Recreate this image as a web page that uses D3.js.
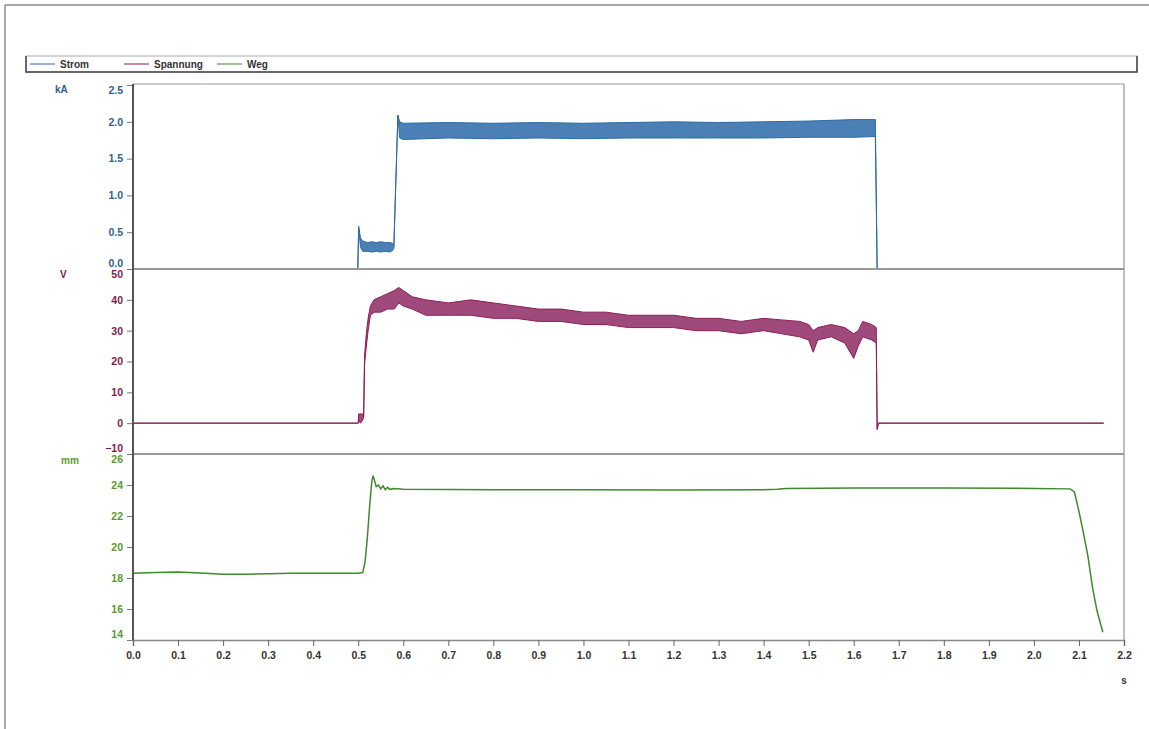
<!DOCTYPE html>
<html>
<head>
<meta charset="utf-8">
<script src="https://cdn.jsdelivr.net/npm/d3@7"></script>
<style>
  body { margin: 0; background: #fff; }
  svg { display: block; font-family: "Liberation Sans", Arial, sans-serif; }
</style>
</head>
<body>
<svg id="chart" width="1149" height="729"></svg>
<script>
// Legend entries and series colours
var seriesNames = ["Strom", "Spannung", "Weg"];
var seriesColors = ["#2f6aa3", "#8c1d56", "#3f8a2c"];
var unitLabels = ["kA", "V", "mm"];

// Tick values for the three y axes and the shared time axis
var curTicks = [0.0, 0.5, 1.0, 1.5, 2.0, 2.5];
var voltTicks = [-10, 0, 10, 20, 30, 40, 50];
var wegTicks = [14, 16, 18, 20, 22, 24, 26];
var timeTicks = [0.0, 0.1, 0.2, 0.3, 0.4, 0.5, 0.6, 0.7, 0.8, 0.9, 1.0, 1.1,
                 1.2, 1.3, 1.4, 1.5, 1.6, 1.7, 1.8, 1.9, 2.0, 2.1, 2.2];

// Strom (kA): time, lower and upper edge of the ripple band
var curTime = [0, 0.499, 0.501, 0.505, 0.51, 0.52, 0.53, 0.54, 0.55, 0.56, 0.57, 0.576, 0.579,
               0.588, 0.592, 0.6, 0.7, 0.8, 0.9, 1.0, 1.1, 1.2, 1.3, 1.4, 1.5, 1.6, 1.648, 1.652, 2.155];
var curLow = [0, 0, 0.55, 0.30, 0.24, 0.24, 0.23, 0.24, 0.23, 0.24, 0.23, 0.25, 0.28,
              2.09, 1.78, 1.76, 1.78, 1.77, 1.78, 1.77, 1.78, 1.78, 1.78, 1.78, 1.79, 1.79, 1.80, 0, 0];
var curHigh = [0, 0, 0.58, 0.42, 0.38, 0.36, 0.37, 0.36, 0.37, 0.36, 0.36, 0.35, 0.30,
               2.09, 2.00, 1.98, 1.99, 1.98, 1.99, 1.98, 1.99, 2.00, 1.99, 2.00, 2.01, 2.03, 2.03, 0, 0];

// Spannung (V): time, lower and upper edge of the noise band
var voltTime = [0, 0.5, 0.501, 0.505, 0.51, 0.512, 0.514, 0.518, 0.522, 0.527, 0.535, 0.55, 0.565,
                0.58, 0.59, 0.6, 0.62, 0.65, 0.7, 0.75, 0.8, 0.85, 0.9, 0.95, 1.0, 1.05, 1.1, 1.15,
                1.2, 1.25, 1.3, 1.35, 1.4, 1.44, 1.48, 1.5, 1.51, 1.52, 1.55, 1.58, 1.6, 1.61, 1.62,
                1.64, 1.65, 1.652, 1.655, 2.155];
var voltLow = [0, 0, 1, 0, 1, 2, 19, 25, 30, 35, 36, 36, 37,
               37, 39, 38, 37, 35, 35, 35, 34, 34, 33, 33, 32, 32, 31, 31,
               31, 30, 30, 29, 30, 29, 28, 27, 23, 27, 28, 26, 21, 25, 28,
               27, 26, -2, 0, 0];
var voltHigh = [0, 0, 3, 3, 3, 2, 22, 29, 34, 38, 40, 41, 42,
                43, 44, 43, 41, 40, 39, 40, 39, 38, 37, 37, 36, 36, 35, 35,
                35, 34, 34, 33, 34, 33.5, 33, 32, 30, 31, 32, 31, 29, 30, 33,
                32, 31, -2, 0, 0];

// Weg (mm)
var wegTime = [0, 0.05, 0.1, 0.15, 0.2, 0.25, 0.3, 0.35, 0.4, 0.45, 0.5, 0.51, 0.515, 0.52,
               0.525, 0.53, 0.533, 0.537, 0.54, 0.545, 0.55, 0.555, 0.56, 0.565, 0.57, 0.58,
               0.6, 0.8, 1.0, 1.2, 1.4, 1.43, 1.45, 1.6, 1.8, 2.0, 2.08, 2.09, 2.1, 2.11,
               2.12, 2.13, 2.14, 2.153];
var wegValue = [18.3, 18.35, 18.38, 18.32, 18.25, 18.25, 18.28, 18.3, 18.3, 18.3, 18.3, 18.35, 19.0, 20.5,
                22.5, 24.2, 24.6, 24.2, 23.9, 24.0, 23.75, 23.95, 23.7, 23.85, 23.72, 23.78,
                23.72, 23.7, 23.7, 23.68, 23.7, 23.72, 23.78, 23.8, 23.8, 23.78, 23.75, 23.55, 22.3, 20.9,
                19.4, 17.4, 15.9, 14.5];

var svg = d3.select("#chart");

var left = 133, right = 1124;
var x = d3.scaleLinear().domain([0, 2.2]).range([left, right]);
var yCur = d3.scaleLinear().domain([0, 2.5]).range([269, 85]);
var yVolt = d3.scaleLinear().domain([-10, 50]).range([454, 269]);
var yWeg = d3.scaleLinear().domain([14, 26]).range([640, 454]);

// Outer frame of the screenshot
svg.append("line").attr("x1", 5).attr("y1", 5).attr("x2", 5).attr("y2", 729)
    .attr("stroke", "#555").attr("stroke-width", 1);
svg.append("line").attr("x1", 5).attr("y1", 5).attr("x2", 1149).attr("y2", 5)
    .attr("stroke", "#555").attr("stroke-width", 1);

// Legend box
var legend = svg.append("g");
legend.append("rect")
    .attr("x", 26).attr("y", 56).attr("width", 1111).attr("height", 16)
    .attr("fill", "#fff").attr("stroke", "#aaa");
legend.append("path")
    .attr("d", "M26,56 V72 H1137 V56")
    .attr("fill", "none").attr("stroke", "#444").attr("stroke-width", 1.5);

var legendX = [30, 124, 217];
seriesNames.forEach(function (name, i) {
    legend.append("line")
        .attr("x1", legendX[i]).attr("x2", legendX[i] + 25)
        .attr("y1", 64).attr("y2", 64)
        .attr("stroke", seriesColors[i]).attr("stroke-width", 1);
    legend.append("text")
        .attr("x", legendX[i] + 30).attr("y", 67.5)
        .attr("font-size", 10).attr("font-weight", "bold").attr("fill", "#333")
        .text(name);
});

// Draw one y axis with its unit label
function drawYAxis(scale, ticks, fmt, color, unit, unitX, unitY) {
    var g = svg.append("g")
        .attr("transform", "translate(" + left + ",0)")
        .call(d3.axisLeft(scale).tickValues(ticks).tickSize(6).tickPadding(4)
            .tickFormat(d3.format(fmt)));
    g.select(".domain").remove();
    g.selectAll(".tick line").attr("stroke", "#777");
    g.selectAll(".tick text")
        .attr("fill", color).attr("font-size", 10.5).attr("font-weight", "bold")
        .attr("font-family", "Liberation Sans, Arial, sans-serif")
        .attr("dy", function (d, i) {
            // the end labels are nudged into their own panel
            if (i === 0) return "-0.25em";
            if (i === ticks.length - 1) return "0.85em";
            return "0.32em";
        });
    svg.append("text")
        .attr("x", unitX).attr("y", unitY)
        .attr("font-size", 10).attr("font-weight", "bold").attr("fill", color)
        .text(unit);
}

drawYAxis(yCur, curTicks, ".1f", "#2f5f8f", unitLabels[0], 55, 93);
drawYAxis(yVolt, voltTicks, "d", "#7d1d4c", unitLabels[1], 60, 278);
drawYAxis(yWeg, wegTicks, "d", "#5a9a2e", unitLabels[2], 61, 464);

// Time axis
var xg = svg.append("g")
    .attr("transform", "translate(0,640)")
    .call(d3.axisBottom(x).tickValues(timeTicks).tickSize(6).tickPadding(6)
        .tickFormat(d3.format(".1f")));
xg.select(".domain").attr("stroke", "#888").attr("stroke-width", 1.5);
xg.selectAll(".tick line").attr("stroke", "#666");
xg.selectAll(".tick text")
    .attr("fill", "#333").attr("font-size", 10.5).attr("font-weight", "bold")
    .attr("font-family", "Liberation Sans, Arial, sans-serif");
svg.append("text")
    .attr("x", right).attr("y", 684).attr("text-anchor", "middle")
    .attr("font-size", 10).attr("font-weight", "bold").attr("fill", "#333")
    .text("s");

// Noisy signals drawn as bands between lower and upper edges
function drawBand(times, lows, highs, scale, fill, stroke) {
    var rows = times.map(function (t, i) { return [t, lows[i], highs[i]]; });
    var area = d3.area()
        .x(function (d) { return x(d[0]); })
        .y0(function (d) { return scale(d[1]); })
        .y1(function (d) { return scale(d[2]); });
    svg.append("path").datum(rows).attr("d", area)
        .attr("fill", fill)
        .attr("stroke", stroke).attr("stroke-width", 1);
}

drawBand(curTime, curLow, curHigh, yCur, "#4a80b6", seriesColors[0]);
drawBand(voltTime, voltLow, voltHigh, yVolt, "#a04a7c", seriesColors[1]);

var wegRows = wegTime.map(function (t, i) { return [t, wegValue[i]]; });
svg.append("path").datum(wegRows)
    .attr("d", d3.line()
        .x(function (d) { return x(d[0]); })
        .y(function (d) { return yWeg(d[1]); }))
    .attr("fill", "none").attr("stroke", seriesColors[2]).attr("stroke-width", 1.5);

// Plot frame: top and right borders, panel separators, drawn over the traces
svg.append("line").attr("x1", left).attr("x2", right).attr("y1", 84).attr("y2", 84)
    .attr("stroke", "#bbb").attr("stroke-width", 1.5);
svg.append("line").attr("x1", right).attr("x2", right).attr("y1", 84).attr("y2", 640)
    .attr("stroke", "#aaa").attr("stroke-width", 1.5);
[269, 454].forEach(function (yy) {
    svg.append("line").attr("x1", left).attr("x2", right).attr("y1", yy).attr("y2", yy)
        .attr("stroke", "#999").attr("stroke-width", 2);
});

// Left axis line
svg.append("line").attr("x1", left).attr("x2", left).attr("y1", 84).attr("y2", 640)
    .attr("stroke", "#555").attr("stroke-width", 2);
</script>
</body>
</html>
